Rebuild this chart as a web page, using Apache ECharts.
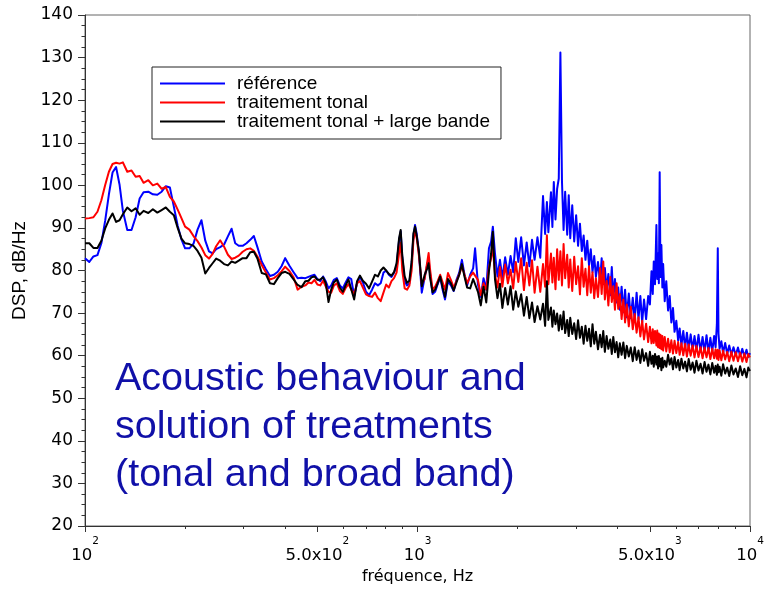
<!DOCTYPE html>
<html><head><meta charset="utf-8">
<script src="https://cdn.jsdelivr.net/npm/echarts@6/dist/echarts.min.js"></script>
<style>html,body{margin:0;padding:0;background:#fff}#chart{width:767px;height:590px}</style>
</head><body><div id="chart"></div>
<script>
// ---- Data (frequency in Hz, DSP in dB/Hz) ----
const seriesNames = ['référence', 'traitement tonal', 'traitement tonal + large bande'];

const freqLow = [100,103,106,109,112,115,118,121,124,127,130,134,138,142,146,150,155,160,165,170,175,180,185,190,195,200,206,212,218,224,230,236,242,248,255,262,269,276,283,290,298,306,314,322,330,340,350,360,370,380,390,400,412,424,436,448];
const referenceLow = [82.9,82.0,83.3,83.6,86.4,91.7,97.9,103.0,104.3,100.2,94.0,89.5,89.5,92.5,96.9,98.4,98.5,97.9,97.8,98.5,99.8,99.5,95.0,90.5,87.3,85.2,85.2,86.3,89.6,91.8,87.0,84.5,84.0,85.0,85.5,86.1,88.0,89.8,86.4,85.8,85.8,86.4,87.2,88.1,85.5,82.1,80.3,78.7,79.0,79.7,81.0,82.9,81.1,79.6,78.2,78.3];
const tonalLow = [92.2,92.3,92.5,93.8,96.5,100.1,103.2,105.0,105.3,105.1,105.4,103.2,103.5,102.0,102.2,100.6,101.2,100.0,100.4,99.2,99.6,97.3,96.2,94.3,92.3,90.3,89.6,88.1,86.9,85.4,83.6,82.8,83.9,85.7,87.1,85.6,83.7,82.7,83.0,83.5,84.4,85.0,85.2,84.6,83.3,81.3,79.5,77.9,78.2,78.9,79.8,80.9,79.9,78.4,75.5,76.2];
const broadbandLow = [86.4,86.4,85.3,85.3,87.0,89.9,91.9,93.4,91.4,91.8,93.2,94.8,93.9,94.6,93.1,94.0,93.5,94.4,93.6,94.2,94.8,93.8,93.0,90.0,87.5,86.4,86.2,85.8,84.6,83.0,79.3,80.6,81.7,82.8,82.3,81.5,81.2,82.1,81.8,82.3,82.9,82.9,84.3,84.4,82.8,79.4,79.1,77.0,76.8,78.2,79.4,79.7,79.2,77.9,76.6,76.1];

const freqMid = [460,470,480,490,500,510,520,530,540,550,560,572,584,596,608,620,632,645,658,671,685,700,715,730,745,760,775,790,805,820,835,850,865,880,890,900,915,930,945,960,972,983,995,1010,1030,1050,1070,1080,1090,1110,1130,1150,1170,1190,1210,1235,1260,1285,1310,1335,1360,1385,1410,1440,1470,1490];
const referenceMid = [78.2,78.5,78.8,79.0,78.0,77.5,78.6,77.4,75.8,76.5,77.8,78.2,76.5,75.8,77.2,78.4,78.0,74.0,77.0,78.5,77.2,75.0,74.2,75.5,77.0,76.5,77.0,79.5,80.0,79.0,78.5,79.5,81.0,87.0,89.2,83.0,77.5,76.5,77.0,81.5,88.0,90.7,88.5,84.0,74.8,78.2,81.5,82.5,79.5,74.5,75.0,76.8,78.4,75.5,73.2,77.5,76.5,75.2,77.8,79.5,82.5,79.0,76.5,79.0,80.5,85.2];
const tonalMid = [76.5,77.2,77.0,77.8,76.7,76.5,77.6,76.2,75.0,74.8,76.4,77.0,75.2,74.5,75.9,76.8,75.5,74.5,77.0,77.5,76.0,74.4,74.0,73.8,74.8,73.5,72.8,74.8,76.7,76.0,77.5,78.2,79.5,84.0,86.5,80.0,75.8,75.5,76.4,80.0,87.0,89.5,87.5,83.5,76.8,78.0,82.0,84.1,80.5,75.5,76.2,77.5,79.0,77.2,75.5,79.4,77.8,76.0,77.5,79.0,81.0,79.0,77.0,78.6,79.5,79.8];
const broadbandMid = [77.5,77.6,78.4,78.6,77.8,77.9,78.4,77.0,72.6,75.5,77.2,77.9,76.0,75.0,76.5,77.9,75.6,73.2,77.5,78.8,77.6,76.9,75.8,77.4,79.0,78.6,80.0,80.7,80.0,79.2,78.8,79.6,81.7,87.5,89.5,83.5,78.6,77.1,77.6,82.0,88.7,90.3,88.0,84.5,76.3,78.9,80.5,81.7,78.5,74.9,75.5,77.0,78.6,76.0,73.8,78.0,77.0,75.3,77.2,79.0,81.5,78.5,76.0,75.8,78.0,78.0];

const freqHigh = [1520,1550,1580,1610,1640,1665,1685,1710,1740,1770,1800,1835,1870,1905,1940,1975,2010,2050,2090,2130,2170,2210,2250,2295,2340,2385,2420,2450,2475,2520,2545,2570,2600,2630,2660,2690,2720,2750,2780,2820,2850,2880,2920,2960,3000,3040,3080,3120,3160,3200,3240,3280,3320,3360,3400,3440,3490,3540,3580,3620,3660,3705,3750,3800,3840,3880,3925,3970,4015,4060,4110,4160,4210,4260,4320,4380,4440,4500,4560,4620,4680,4740,4800,4870,4940,5000,5055,5100,5135,5180,5230,5260,5290,5320,5350,5380,5414,5450,5480,5540,5600,5670,5735,5800,5867,5930,6004,6080,6143,6220,6300,6380,6460,6540,6630,6720,6810,6900,7000,7100,7200,7300,7400,7500,7600,7700,7800,7880,7950,8000,8040,8100,8200,8300,8420,8540,8660,8790,8920,9060,9200,9340,9480,9620,9760,9880,10000];
const referenceHigh = [
  76.7,73.8,78.2,75.5,85.2,86.8,90.3,84.0,78.6,82.5,
  78.2,83.1,79.0,83.4,79.6,87.6,82.0,87.8,81.2,86.6,
  81.0,87.2,82.5,87.8,83.0,97.5,88.6,96.1,89.0,98.4,
  90.2,100.8,92.0,99.2,101.6,131.2,100.8,89.5,98.5,88.4,
  97.7,87.6,95.3,86.8,93.0,85.8,91.0,84.6,88.2,82.5,
  87.0,81.2,85.0,79.6,83.4,78.5,82.0,77.2,82.9,76.8,
  80.6,75.4,79.2,74.2,80.8,73.6,78.0,72.5,76.0,70.8,
  76.2,70.2,75.5,69.0,74.6,68.8,73.6,68.2,74.8,68.6,
  74.0,67.8,73.2,68.6,74.0,72.0,79.8,74.5,82.1,76.8,
  90.7,78.0,84.0,77.0,103.1,78.5,86.0,76.0,81.5,72.8,
  77.5,70.6,74.0,67.8,71.2,65.6,68.2,63.5,66.4,62.4,
  65.8,61.8,65.4,61.6,65.0,61.4,64.6,61.2,64.9,61.0,
  64.4,60.9,64.8,60.8,64.2,61.0,64.6,62.0,67.4,85.2,
  65.2,61.6,63.4,60.6,63.0,60.4,62.4,60.2,62.0,60.1,
  61.9,59.9,61.6,59.8,61.4,59.7,60.6];
const tonalHigh = [
  77.8,74.2,77.0,75.5,80.6,82.9,85.5,79.0,76.0,80.8,
  76.2,81.4,77.0,80.2,75.8,82.0,77.3,82.9,75.4,81.8,
  76.5,82.4,74.8,80.9,75.0,81.5,76.2,88.3,76.8,84.0,
  77.2,83.0,75.6,85.0,77.8,84.5,76.5,86.2,78.2,83.7,
  76.0,82.6,75.2,83.2,76.8,81.0,74.4,82.9,76.2,80.4,
  74.2,81.0,74.8,79.6,73.5,78.2,73.8,80.6,74.5,82.1,
  73.2,77.6,71.8,78.5,72.6,76.3,70.8,77.0,71.0,74.4,
  68.6,73.2,67.8,72.0,66.9,71.5,66.2,69.8,65.4,69.0,
  64.5,68.2,63.8,67.5,63.2,66.8,62.9,66.2,63.0,65.8,
  62.4,65.9,62.0,65.2,61.8,64.9,61.5,64.6,61.2,64.4,
  61.0,64.0,60.8,63.6,60.5,63.5,60.6,63.2,60.2,62.9,
  60.1,62.8,59.8,62.6,60.0,62.4,59.6,62.3,59.7,62.0,
  59.4,61.9,59.6,61.8,59.2,61.6,59.4,61.5,59.3,61.4,
  59.0,61.3,58.9,61.2,59.1,60.9,58.7,60.9,58.8,60.8,
  58.7,60.7,58.6,60.5,58.5,60.4,59.6];
const broadbandHigh = [
  75.0,71.8,76.2,72.5,79.8,84.0,89.1,78.0,73.5,76.9,
  71.2,75.9,72.0,76.3,70.8,75.1,71.5,74.4,69.4,73.8,
  68.8,72.5,67.9,71.6,68.5,72.2,67.0,77.5,68.4,71.3,
  66.8,70.6,67.4,69.9,65.9,69.5,66.2,70.4,65.3,68.4,
  64.6,68.9,65.1,67.6,63.9,68.3,64.2,66.8,62.8,67.0,
  63.5,66.3,62.2,67.4,62.8,65.6,61.5,64.9,62.0,65.8,
  60.9,64.6,61.6,63.8,60.4,64.4,60.8,63.2,59.6,62.9,
  60.2,63.1,59.4,62.3,59.8,61.9,58.7,62.0,59.0,61.2,
  58.3,61.5,58.8,60.6,57.6,60.9,58.1,60.0,57.4,60.4,
  57.9,59.8,57.0,59.9,57.5,59.3,56.6,59.5,57.2,58.8,
  57.4,60.2,57.9,59.4,56.8,59.7,57.2,59.0,56.6,59.3,
  57.0,58.6,56.3,59.2,56.7,58.4,56.0,58.8,56.5,58.1,
  55.8,58.5,56.2,57.9,55.6,58.3,56.0,57.6,55.5,57.9,
  56.1,57.4,55.3,58.0,55.8,57.2,55.2,57.7,55.6,57.0,
  55.0,57.5,55.4,56.9,54.9,57.2,56.4];

// axis ticks
const yTicks = [20, 140, 10]; // min, max, step
const majorTickFreqs = [100, 500, 1000, 5000, 10000];
const majorTickLabels = ['10^2', '5.0x10^2', '10^3', '5.0x10^3', '10^4'];
const minorTickFreqs = [200, 300, 400, 600, 700, 800, 900, 2000, 3000, 4000, 6000, 7000, 8000, 9000];
const annotation = 'Acoustic behaviour and\nsolution of treatments\n(tonal and broad band)';

// ---- Build ----
const freqs = freqLow.concat(freqMid, freqHigh);
const seriesValues = [
  referenceLow.concat(referenceMid, referenceHigh),
  tonalLow.concat(tonalMid, tonalHigh),
  broadbandLow.concat(broadbandMid, broadbandHigh)
];
const colors = ['#0000ff', '#ff0000', '#000000'];
const majorPos = majorTickFreqs.map(f => Math.log10(f));
const minorPos = minorTickFreqs.map(f => Math.log10(f));

const chart = echarts.init(document.getElementById('chart'), null, {renderer: 'canvas'});
const tickFont = '"DejaVu Sans", sans-serif';
chart.setOption({
  animation: false,
  backgroundColor: '#ffffff',
  grid: {left: 85, right: 17, top: 15, bottom: 60, show: true, borderColor: '#666', borderWidth: 1, backgroundColor: 'transparent'},
  legend: {
    data: seriesNames, left: 152, top: 67, orient: 'vertical',
    padding: [7, 11, 8, 8], itemGap: 0, itemWidth: 65, itemHeight: 2, icon: 'rect',
    borderColor: '#222', borderWidth: 1, selectedMode: false,
    textStyle: {fontFamily: '"Liberation Sans", Arial, sans-serif', fontSize: 19, color: '#000', lineHeight: 18.5, padding: [0, 0, 0, 7]}
  },
  xAxis: [
    {type: 'log', logBase: 10, min: 100, max: 10000, position: 'bottom',
     axisLine: {show: true, onZero: false, lineStyle: {color: '#333', width: 1}},
     axisTick: {show: false}, axisLabel: {show: false}, splitLine: {show: false},
     name: 'fréquence, Hz', nameLocation: 'middle', nameGap: 43,
     nameTextStyle: {fontFamily: tickFont, fontSize: 16, color: '#000'}},
    {type: 'value', min: 2, max: 4, position: 'bottom',
     axisLine: {show: false},
     axisTick: {show: true, customValues: majorPos, length: 6, lineStyle: {color: '#333'}},
     axisLabel: {show: true, customValues: majorPos, margin: 10,
       formatter: function (v) {
         const i = majorPos.findIndex(p => Math.abs(p - v) < 1e-6);
         if (i < 0) return '';
         const parts = majorTickLabels[i].split('^');
         return '{b|' + parts[0] + '}{s|' + parts[1] + '}';
       },
       rich: {
         b: {fontFamily: tickFont, fontSize: 16.5, lineHeight: 28, verticalAlign: 'bottom', color: '#000'},
         s: {fontFamily: tickFont, fontSize: 10.5, lineHeight: 28, verticalAlign: 'top', color: '#000'}
       }},
     splitLine: {show: false}},
    {type: 'value', min: 2, max: 4, position: 'bottom',
     axisLine: {show: false},
     axisTick: {show: true, customValues: minorPos, length: 3, lineStyle: {color: '#333'}},
     axisLabel: {show: false}, splitLine: {show: false}}
  ],
  yAxis: {
    type: 'value', min: yTicks[0], max: yTicks[1], interval: yTicks[2],
    axisLine: {show: true, lineStyle: {color: '#333', width: 1}},
    axisTick: {show: true, length: 7, lineStyle: {color: '#333'}},
    minorTick: {show: true, splitNumber: 4, length: 3.5, lineStyle: {color: '#333'}},
    splitLine: {show: false},
    axisLabel: {fontFamily: tickFont, fontSize: 17, color: '#000', margin: 12},
    name: 'DSP, dB/Hz', nameLocation: 'middle', nameGap: 51,
    nameTextStyle: {fontFamily: '"Liberation Sans", Arial, sans-serif', fontSize: 19, color: '#000'}
  },
  graphic: [{
    type: 'text', left: 115, top: 355, z: 100,
    style: {text: annotation, fontFamily: '"Liberation Sans", Arial, sans-serif', fontSize: 39.5, lineHeight: 48, fill: '#1010a8'}
  }],
  series: seriesNames.map((name, k) => ({
    name: name, type: 'line', xAxisIndex: 0, yAxisIndex: 0,
    symbol: 'none', showSymbol: false, clip: true,
    color: colors[k],
    lineStyle: {color: colors[k], width: 2, join: 'round'},
    itemStyle: {color: colors[k]},
    data: freqs.map((f, i) => [f, seriesValues[k][i]])
  }))
});
</script></body></html>
